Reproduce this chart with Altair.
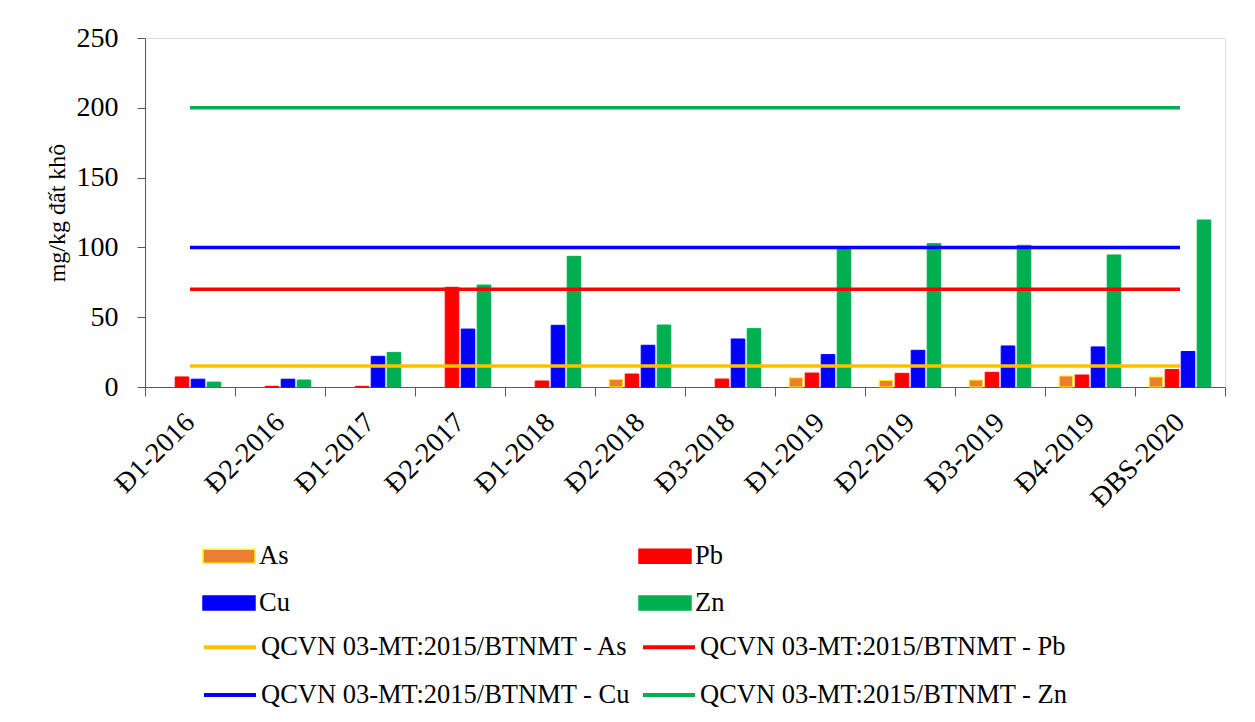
import altair as alt
import pandas as pd

categories = ["Đ1-2016", "Đ2-2016", "Đ1-2017", "Đ2-2017", "Đ1-2018", "Đ2-2018",
              "Đ3-2018", "Đ1-2019", "Đ2-2019", "Đ3-2019", "Đ4-2019", "ĐBS-2020"]
metals = ["As", "Pb", "Cu", "Zn"]
as_values = [None, None, None, None, None, 5.5, None, 6.6, 4.8, 5.0, 7.9, 7.2]
pb_values = [7.2, 0.5, 0.5, 71.4, 4.3, 9.3, 5.7, 10.0, 9.8, 10.5, 8.6, 12.5]
cu_values = [5.6, 5.6, 22.0, 41.5, 44.2, 29.9, 34.4, 23.2, 26.3, 29.4, 28.7, 25.4]
zn_values = [3.5, 5.0, 24.8, 73.0, 93.6, 44.4, 41.8, 98.6, 102.7, 101.5, 94.6, 119.6]

limit_labels = ["QCVN 03-MT:2015/BTNMT - As", "QCVN 03-MT:2015/BTNMT - Pb",
                "QCVN 03-MT:2015/BTNMT - Cu", "QCVN 03-MT:2015/BTNMT - Zn"]
limit_values = [15, 70, 100, 200]

bar_colors = ["#ED7D31", "#FF0000", "#0000FF", "#00B050"]
bar_edges = ["#FFFF00", "#FF0000", "#0000FF", "#00B050"]
line_colors = ["#FFC000", "#FF0000", "#0000FF", "#00B050"]
y_ticks = [0, 50, 100, 150, 200, 250]
y_title = "mg/kg đất khô"

# legend entries fill columns first: reorder so rows read As|Pb, Cu|Zn
legend_order = [0, 2, 1, 3]

FONT = "Liberation Serif"

bar_rows = []
for metal, vals in zip(metals, [as_values, pb_values, cu_values, zn_values]):
    for c, v in zip(categories, vals):
        if v is not None:
            bar_rows.append({"category": c, "metal": metal, "value": v})
bars_df = pd.DataFrame(bar_rows)

line_rows = []
for lab, lim in zip(limit_labels, limit_values):
    for c in categories:
        line_rows.append({"category": c, "label": lab, "value": lim})
lines_df = pd.DataFrame(line_rows)

x_axis = alt.Axis(labelAngle=-45, labelAlign="right", labelBaseline="middle",
                  labelFontSize=28, labelFont=FONT, labelColor="black",
                  tickBand="extent", tickSize=9, labelPadding=22,
                  domainColor="#595959", tickColor="#595959", grid=False,
                  title=None)
y_axis = alt.Axis(values=y_ticks, labelFontSize=28, labelFont=FONT, labelColor="black",
                  tickSize=8, labelPadding=19, grid=False,
                  domainColor="#595959", tickColor="#595959",
                  titleFont=FONT, titleFontSize=24, titleFontWeight="normal",
                  titleColor="black", titleAngle=270, titleX=-88, titleY=174.5,
                  titleAlign="center", titleBaseline="middle")

bar_legend = alt.Legend(title=None, orient="none", legendX=70, legendY=504,
                        columns=2, columnPadding=346, rowPadding=19, padding=0,
                        symbolType="M-2,-0.54H2V0.54H-2Z", symbolSize=676,
                        symbolStrokeWidth=1.5, labelFontSize=26.5, labelFont=FONT,
                        labelColor="black", labelOffset=16, labelLimit=600)
line_legend = alt.Legend(title=None, orient="none", legendX=70, legendY=594,
                         columns=2, columnPadding=5, rowPadding=19, padding=0,
                         symbolType="M-2,0H2", symbolSize=676,
                         symbolStrokeWidth=4, labelFontSize=26.5, labelFont=FONT,
                         labelColor="black", labelOffset=16, labelLimit=600)

x_scale = alt.Scale(domain=categories, paddingInner=0, paddingOuter=0)
y_scale = alt.Scale(domain=[0, 250], nice=False)

fill_dom = [metals[i] for i in legend_order]
fill_rng = [bar_colors[i] for i in legend_order]
edge_rng = [bar_edges[i] for i in legend_order]
line_dom = [limit_labels[i] for i in legend_order]
line_rng = [line_colors[i] for i in legend_order]

bars = alt.Chart(bars_df).mark_bar(strokeWidth=1).encode(
    x=alt.X("category:N", sort=categories, scale=x_scale, axis=x_axis),
    xOffset=alt.XOffset("metal:N", sort=metals,
                        scale=alt.Scale(domain=metals, paddingInner=0.15, paddingOuter=0.8875)),
    y=alt.Y("value:Q", scale=y_scale, axis=y_axis, title=y_title),
    fill=alt.Fill("metal:N", scale=alt.Scale(domain=fill_dom, range=fill_rng), legend=bar_legend),
    stroke=alt.Stroke("metal:N", scale=alt.Scale(domain=fill_dom, range=edge_rng), legend=bar_legend),
)

lines = alt.Chart(lines_df).mark_line(strokeWidth=3.5).encode(
    x=alt.X("category:N", sort=categories, scale=x_scale, bandPosition=0.5),
    y=alt.Y("value:Q", scale=y_scale),
    color=alt.Color("label:N",
                    scale=alt.Scale(domain=line_dom, range=line_rng),
                    legend=line_legend),
)

chart = alt.layer(bars, lines).properties(
    width=1080, height=349,
    padding={"left": 137, "top": 30, "right": 22, "bottom": 327},
    autosize=alt.AutoSizeParams(type="none"),
    background="white",
).configure_view(stroke=None).configure(font=FONT)

chart.save("out.html", embed_options={"renderer": "svg", "actions": False})
